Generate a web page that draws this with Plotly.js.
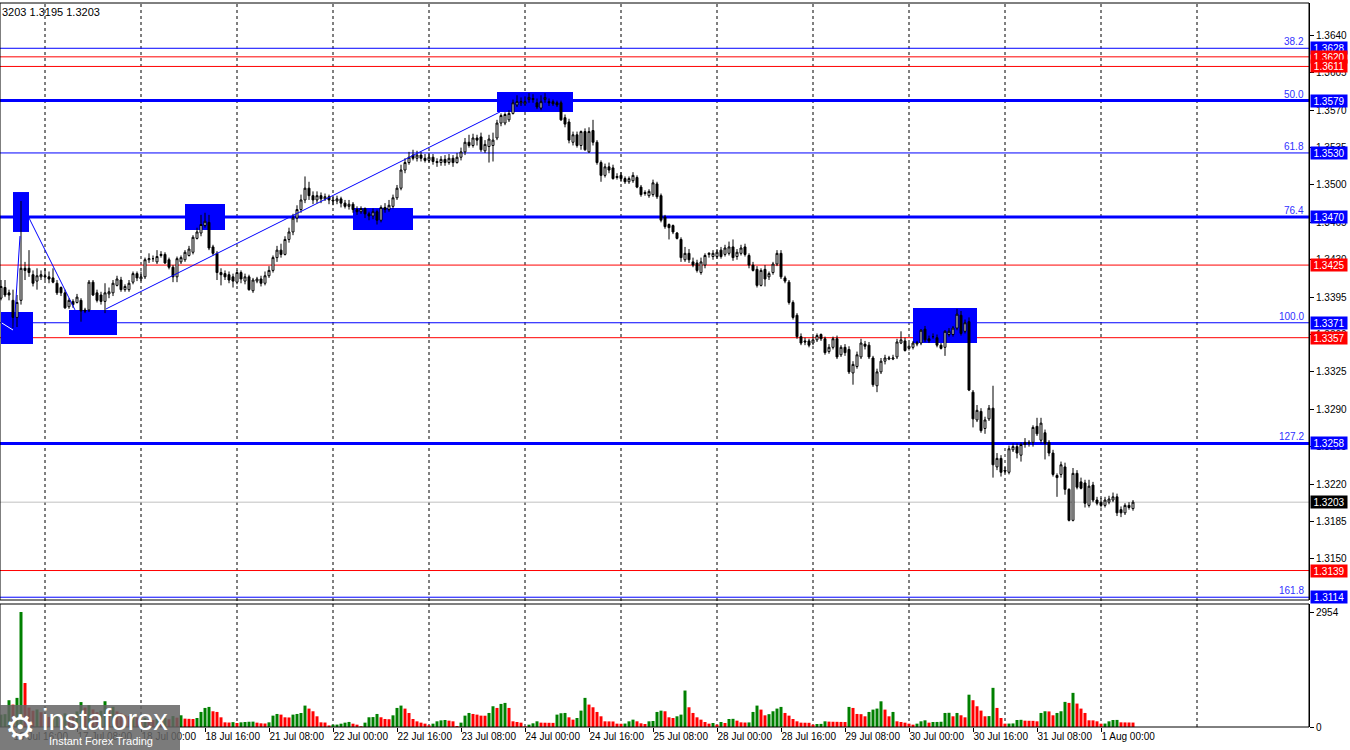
<!DOCTYPE html>
<html><head><meta charset="utf-8">
<script src="https://cdn.plot.ly/plotly-3.0.1.min.js"></script>
<style>html,body{margin:0;padding:0;background:#fff;}#chart{width:1350px;height:750px;}</style>
</head><body><div id="chart"></div>
<script>
// GBPUSD H1, 16 Jul 13:00 .. 1 Aug 07:00 (one bar per hour)
const openP = [
1.3394,1.3404,1.3399,1.3392,1.3376,1.3392,1.3422,1.3422,1.3416,1.3410,
1.3414,1.3415,1.3414,1.3413,1.3408,1.3404,1.3399,1.3386,1.3391,1.3390,
1.3392,1.3383,1.3383,1.3409,1.3399,1.3397,1.3391,1.3398,1.3399,1.3406,
1.3411,1.3402,1.3402,1.3409,1.3417,1.3412,1.3414,1.3430,1.3431,1.3428,
1.3434,1.3435,1.3430,1.3423,1.3414,1.3428,1.3430,1.3434,1.3437,1.3450,
1.3455,1.3462,1.3465,1.3442,1.3436,1.3418,1.3417,1.3416,1.3414,1.3409,
1.3418,1.3410,1.3414,1.3401,1.3410,1.3412,1.3408,1.3415,1.3420,1.3432,
1.3439,1.3435,1.3449,1.3456,1.3469,1.3477,1.3486,1.3497,1.3490,1.3486,
1.3490,1.3487,1.3489,1.3486,1.3485,1.3487,1.3483,1.3480,1.3482,1.3477,
1.3475,1.3478,1.3473,1.3471,1.3475,1.3467,1.3479,1.3477,1.3480,1.3488,
1.3497,1.3514,1.3521,1.3528,1.3525,1.3528,1.3525,1.3523,1.3526,1.3522,
1.3521,1.3524,1.3521,1.3525,1.3521,1.3526,1.3531,1.3540,1.3537,1.3544,
1.3545,1.3532,1.3536,1.3537,1.3544,1.3558,1.3558,1.3561,1.3567,1.3575,
1.3577,1.3576,1.3580,1.3581,1.3577,1.3572,1.3580,1.3578,1.3578,1.3577,
1.3577,1.3563,1.3559,1.3540,1.3547,1.3537,1.3550,1.3531,1.3551,1.3540,
1.3521,1.3509,1.3517,1.3516,1.3507,1.3509,1.3506,1.3503,1.3504,1.3507,
1.3498,1.3493,1.3490,1.3491,1.3501,1.3490,1.3470,1.3463,1.3462,1.3455,
1.3449,1.3430,1.3436,1.3428,1.3427,1.3418,1.3425,1.3435,1.3433,1.3433,
1.3439,1.3435,1.3436,1.3442,1.3433,1.3436,1.3442,1.3434,1.3425,1.3421,
1.3406,1.3421,1.3414,1.3418,1.3426,1.3436,1.3413,1.3409,1.3390,1.3378,
1.3358,1.3354,1.3354,1.3352,1.3355,1.3360,1.3356,1.3344,1.3348,1.3356,
1.3341,1.3348,1.3346,1.3324,1.3330,1.3339,1.3351,1.3350,1.3338,1.3312,
1.3325,1.3335,1.3337,1.3337,1.3339,1.3352,1.3354,1.3347,1.3348,1.3351,
1.3352,1.3365,1.3356,1.3358,1.3357,1.3350,1.3348,1.3360,1.3360,1.3366,
1.3378,1.3363,1.3372,1.3306,1.3280,1.3288,1.3272,1.3281,1.3291,1.3236,
1.3244,1.3233,1.3231,1.3252,1.3255,1.3247,1.3259,1.3258,1.3259,1.3274,
1.3261,1.3268,1.3259,1.3249,1.3228,1.3229,1.3236,1.3215,1.3186,1.3230,
1.3222,1.3221,1.3200,1.3219,1.3205,1.3203,1.3200,1.3203,1.3205,1.3208,
1.3196,1.3193,1.3200,1.3197];
const highP = [
1.3411,1.3411,1.3402,1.3402,1.3397,1.3485,1.3428,1.3439,1.3420,1.3422,
1.3420,1.3422,1.3419,1.3422,1.3411,1.3405,1.3402,1.3394,1.3393,1.3398,
1.3394,1.3385,1.3411,1.3411,1.3402,1.3400,1.3408,1.3404,1.3411,1.3415,
1.3414,1.3407,1.3411,1.3419,1.3419,1.3419,1.3432,1.3436,1.3434,1.3439,
1.3438,1.3437,1.3432,1.3425,1.3433,1.3434,1.3439,1.3443,1.3453,1.3460,
1.3472,1.3474,1.3472,1.3444,1.3438,1.3422,1.3420,1.3419,1.3417,1.3420,
1.3420,1.3417,1.3416,1.3413,1.3414,1.3415,1.3419,1.3424,1.3434,1.3443,
1.3445,1.3452,1.3460,1.3473,1.3481,1.3491,1.3508,1.3503,1.3494,1.3494,
1.3493,1.3492,1.3491,1.3489,1.3490,1.3489,1.3486,1.3486,1.3484,1.3480,
1.3480,1.3479,1.3475,1.3478,1.3477,1.3481,1.3483,1.3486,1.3491,1.3500,
1.3519,1.3525,1.3531,1.3533,1.3532,1.3531,1.3529,1.3530,1.3529,1.3525,
1.3527,1.3528,1.3529,1.3528,1.3530,1.3535,1.3544,1.3547,1.3548,1.3547,
1.3549,1.3542,1.3547,1.3549,1.3561,1.3567,1.3568,1.3570,1.3580,1.3584,
1.3582,1.3583,1.3586,1.3585,1.3581,1.3584,1.3586,1.3581,1.3580,1.3579,
1.3579,1.3566,1.3562,1.3550,1.3550,1.3551,1.3553,1.3554,1.3561,1.3542,
1.3523,1.3520,1.3521,1.3519,1.3511,1.3512,1.3508,1.3508,1.3512,1.3509,
1.3500,1.3495,1.3496,1.3505,1.3503,1.3492,1.3472,1.3464,1.3463,1.3456,
1.3451,1.3442,1.3440,1.3432,1.3430,1.3432,1.3436,1.3437,1.3439,1.3440,
1.3442,1.3444,1.3447,1.3449,1.3440,1.3444,1.3445,1.3436,1.3428,1.3424,
1.3422,1.3425,1.3419,1.3428,1.3439,1.3439,1.3415,1.3411,1.3392,1.3380,
1.3361,1.3357,1.3356,1.3358,1.3361,1.3361,1.3358,1.3351,1.3358,1.3359,
1.3350,1.3351,1.3349,1.3335,1.3344,1.3356,1.3354,1.3353,1.3340,1.3328,
1.3338,1.3341,1.3340,1.3341,1.3356,1.3363,1.3357,1.3352,1.3354,1.3354,
1.3365,1.3368,1.3359,1.3361,1.3360,1.3352,1.3364,1.3366,1.3368,1.3384,
1.3382,1.3374,1.3376,1.3308,1.3294,1.3291,1.3283,1.3294,1.3312,1.3249,
1.3247,1.3236,1.3256,1.3258,1.3258,1.3259,1.3263,1.3261,1.3275,1.3282,
1.3282,1.3271,1.3261,1.3252,1.3230,1.3241,1.3240,1.3216,1.3235,1.3233,
1.3226,1.3224,1.3224,1.3222,1.3208,1.3207,1.3208,1.3209,1.3212,1.3211,
1.3199,1.3202,1.3203,1.3205];
const lowP = [
1.3392,1.3395,1.3392,1.3366,1.3367,1.3388,1.3411,1.3414,1.3405,1.3402,
1.3411,1.3411,1.3408,1.3408,1.3397,1.3396,1.3384,1.3384,1.3385,1.3389,
1.3372,1.3380,1.3381,1.3396,1.3390,1.3388,1.3380,1.3394,1.3396,1.3405,
1.3400,1.3400,1.3400,1.3407,1.3410,1.3410,1.3412,1.3427,1.3428,1.3426,
1.3432,1.3426,1.3421,1.3409,1.3409,1.3426,1.3428,1.3433,1.3435,1.3449,
1.3452,1.3460,1.3439,1.3434,1.3411,1.3406,1.3411,1.3408,1.3404,1.3407,
1.3408,1.3407,1.3401,1.3399,1.3408,1.3405,1.3406,1.3413,1.3418,1.3428,
1.3432,1.3434,1.3446,1.3453,1.3465,1.3474,1.3483,1.3486,1.3482,1.3483,
1.3483,1.3485,1.3482,1.3481,1.3482,1.3479,1.3478,1.3477,1.3474,1.3472,
1.3473,1.3469,1.3467,1.3468,1.3463,1.3465,1.3474,1.3475,1.3478,1.3486,
1.3495,1.3511,1.3519,1.3523,1.3522,1.3522,1.3521,1.3521,1.3519,1.3517,
1.3518,1.3518,1.3519,1.3517,1.3520,1.3523,1.3528,1.3535,1.3535,1.3537,
1.3531,1.3530,1.3521,1.3522,1.3542,1.3555,1.3556,1.3559,1.3566,1.3573,
1.3574,1.3574,1.3577,1.3577,1.3571,1.3570,1.3577,1.3574,1.3574,1.3573,
1.3560,1.3554,1.3539,1.3537,1.3535,1.3533,1.3532,1.3530,1.3537,1.3519,
1.3503,1.3507,1.3511,1.3505,1.3505,1.3503,1.3501,1.3501,1.3502,1.3497,
1.3489,1.3490,1.3488,1.3489,1.3487,1.3465,1.3459,1.3449,1.3454,1.3449,
1.3428,1.3428,1.3427,1.3423,1.3418,1.3416,1.3422,1.3432,1.3430,1.3431,
1.3431,1.3433,1.3434,1.3429,1.3430,1.3434,1.3433,1.3422,1.3419,1.3404,
1.3405,1.3405,1.3411,1.3416,1.3424,1.3412,1.3408,1.3388,1.3374,1.3356,
1.3350,1.3350,1.3348,1.3350,1.3353,1.3354,1.3341,1.3342,1.3346,1.3337,
1.3339,1.3340,1.3323,1.3313,1.3328,1.3337,1.3346,1.3337,1.3311,1.3306,
1.3323,1.3332,1.3336,1.3336,1.3337,1.3351,1.3344,1.3345,1.3346,1.3349,
1.3350,1.3353,1.3352,1.3356,1.3348,1.3346,1.3340,1.3358,1.3358,1.3364,
1.3359,1.3361,1.3307,1.3273,1.3278,1.3268,1.3267,1.3279,1.3226,1.3233,
1.3227,1.3230,1.3229,1.3250,1.3244,1.3241,1.3254,1.3255,1.3255,1.3265,
1.3258,1.3243,1.3246,1.3227,1.3208,1.3226,1.3210,1.3185,1.3185,1.3215,
1.3215,1.3198,1.3198,1.3203,1.3200,1.3198,1.3198,1.3201,1.3203,1.3190,
1.3189,1.3191,1.3196,1.3195];
const closeP = [
1.3405,1.3397,1.3397,1.3376,1.3390,1.3422,1.3420,1.3418,1.3408,1.3415,
1.3416,1.3414,1.3412,1.3409,1.3399,1.3399,1.3385,1.3392,1.3388,1.3395,
1.3382,1.3382,1.3409,1.3397,1.3392,1.3391,1.3399,1.3400,1.3408,1.3412,
1.3402,1.3405,1.3408,1.3417,1.3413,1.3414,1.3430,1.3431,1.3431,1.3433,
1.3435,1.3427,1.3423,1.3414,1.3431,1.3432,1.3437,1.3440,1.3451,1.3456,
1.3463,1.3466,1.3441,1.3436,1.3418,1.3416,1.3414,1.3411,1.3410,1.3418,
1.3412,1.3414,1.3402,1.3411,1.3412,1.3408,1.3415,1.3420,1.3432,1.3439,
1.3435,1.3449,1.3456,1.3469,1.3477,1.3486,1.3497,1.3490,1.3486,1.3490,
1.3487,1.3489,1.3486,1.3485,1.3487,1.3483,1.3480,1.3482,1.3477,1.3475,
1.3478,1.3473,1.3471,1.3475,1.3467,1.3479,1.3477,1.3481,1.3488,1.3497,
1.3514,1.3521,1.3526,1.3525,1.3528,1.3525,1.3523,1.3526,1.3522,1.3521,
1.3524,1.3521,1.3525,1.3521,1.3526,1.3531,1.3540,1.3537,1.3544,1.3542,
1.3533,1.3538,1.3543,1.3542,1.3558,1.3565,1.3566,1.3567,1.3577,1.3578,
1.3578,1.3578,1.3582,1.3580,1.3573,1.3578,1.3582,1.3577,1.3576,1.3575,
1.3561,1.3557,1.3542,1.3547,1.3537,1.3550,1.3533,1.3550,1.3540,1.3521,
1.3509,1.3517,1.3514,1.3506,1.3508,1.3506,1.3503,1.3506,1.3509,1.3498,
1.3491,1.3492,1.3494,1.3502,1.3489,1.3467,1.3461,1.3460,1.3456,1.3450,
1.3432,1.3436,1.3430,1.3425,1.3420,1.3428,1.3434,1.3436,1.3436,1.3437,
1.3433,1.3441,1.3442,1.3432,1.3437,1.3441,1.3435,1.3425,1.3420,1.3406,
1.3420,1.3412,1.3417,1.3426,1.3436,1.3414,1.3410,1.3390,1.3376,1.3358,
1.3352,1.3353,1.3350,1.3355,1.3359,1.3356,1.3343,1.3348,1.3356,1.3339,
1.3348,1.3343,1.3325,1.3332,1.3341,1.3352,1.3349,1.3339,1.3313,1.3325,
1.3335,1.3338,1.3338,1.3338,1.3353,1.3355,1.3345,1.3349,1.3352,1.3352,
1.3364,1.3355,1.3354,1.3358,1.3350,1.3347,1.3363,1.3363,1.3366,1.3379,
1.3361,1.3371,1.3308,1.3281,1.3289,1.3270,1.3280,1.3291,1.3238,1.3244,
1.3231,1.3232,1.3253,1.3255,1.3249,1.3257,1.3257,1.3259,1.3273,1.3267,
1.3277,1.3258,1.3249,1.3229,1.3226,1.3238,1.3215,1.3186,1.3230,1.3217,
1.3216,1.3202,1.3218,1.3205,1.3202,1.3200,1.3205,1.3206,1.3208,1.3193,
1.3193,1.3200,1.3198,1.3203];
const volume = [
318,330,688,576,748,2954,1130,500,420,450,
380,300,260,280,330,300,350,300,260,400,
640,500,560,450,380,420,662,450,520,400,
350,300,280,310,250,150,230,200,180,210,
190,230,200,280,240,301,215,210,205,232,
387,490,516,404,387,249,120,115,125,103,
120,129,135,138,112,95,90,120,292,335,
318,249,245,318,335,360,550,473,404,275,
120,115,40,60,62,85,112,130,85,60,
20,112,250,255,335,250,205,200,300,490,
550,473,360,205,145,112,86,43,86,146,
170,180,163,146,26,112,292,361,335,318,
292,290,361,533,490,593,619,490,146,129,
112,17,60,95,146,112,110,108,106,318,
353,361,249,189,232,421,748,576,507,387,
275,146,144,142,86,84,88,146,189,146,
95,77,146,155,387,420,404,249,232,275,
318,937,507,361,249,189,129,86,103,60,
129,103,206,210,163,120,115,118,387,550,
447,300,330,404,473,516,361,292,206,146,
112,110,108,60,77,80,146,138,135,133,
130,128,516,490,335,330,275,387,447,473,
660,447,275,387,146,129,112,86,60,86,
146,172,112,129,130,135,361,365,275,361,
301,249,830,688,533,421,275,280,1006,490,
232,86,88,92,180,185,163,160,158,146,
361,404,400,301,361,404,645,619,877,602,
473,361,172,170,146,86,88,146,180,182,
120,118,116,114];
const tickLabels = ["16 Jul 16:00","17 Jul 08:00","18 Jul 00:00","18 Jul 16:00","21 Jul 08:00","22 Jul 00:00","22 Jul 16:00","23 Jul 08:00","24 Jul 00:00","24 Jul 16:00","25 Jul 08:00","28 Jul 00:00","28 Jul 16:00","29 Jul 08:00","30 Jul 00:00","30 Jul 16:00","31 Jul 08:00","1 Aug 00:00"];
const priceTicks = [1.3640,1.3605,1.3570,1.3535,1.3500,1.3465,1.3430,1.3395,1.3360,1.3325,1.3290,1.3255,1.3220,1.3185,1.3150];
const levelPrices = [1.3628,1.3620,1.3611,1.3579,1.3530,1.3470,1.3425,1.3371,1.3357,1.3258,1.3203,1.3139,1.3114];
const levelKinds  = ["fib","res","res","fibBold","fib","fibBold","res","fib","res","fibBold","last","res","fib"];
const fibLabels   = ["38.2","","","50.0","61.8","76.4","","100.0","","127.2","","","161.8"];
const headerText = "3203 1.3195 1.3203";
const volMax = 2954;

// ---------- layout constants ----------
const W = 1350, H = 750, mL = 0, mR = 41, mT = 3, mB = 23;
const plotH = H - mT - mB; // 724
const plotW = W - mL - mR; // 1309
const priceDomain = [(727 - 600) / plotH, 1];
const volDomain = [0, (727 - 604) / plotH];
const xs = openP.map((_, i) => i);
const BLUE = '#0000ff', RED = '#ff0000';

const tickVals = tickLabels.map((_, k) => 3 + 16 * k);
const dayLines = []; for (let d = 11; d <= 299; d += 24) dayLines.push(d);

const volColors = volume.map((v, i) => (i === 0 || v > volume[i - 1]) ? '#008000' : '#ff0000');

const shapes = [];
dayLines.forEach(d => shapes.push({type:'line', xref:'x', yref:'paper', x0:d, x1:d, y0:0, y1:1,
  line:{color:'#000', width:1, dash:'3px,3px'}, layer:'below'}));

// blue zones
const zones = [[3,7,1.34560,1.34934],[0,8,1.33511,1.33811],[17,29,1.33596,1.33830],[46,56,1.34579,1.34822],
  [88,103,1.34579,1.34785],[124,143,1.35684,1.35871],[228,244,1.33521,1.33848]];
zones.forEach(z => shapes.push({type:'rect', xref:'x', yref:'y', x0:z[0], x1:z[1], y0:z[2], y1:z[3],
  fillcolor:BLUE, line:{width:0}, layer:'below'}));

// level lines
levelPrices.forEach((p, k) => {
  const kind = levelKinds[k];
  let color = BLUE, width = 1;
  if (kind === 'res') color = RED;
  if (kind === 'fibBold') width = 3;
  if (kind === 'last') color = '#c0c0c0';
  shapes.push({type:'line', xref:'paper', yref:'y', x0:0, x1:1, y0:p, y1:p, line:{color, width}, layer:'below'});
});

// trend lines
shapes.push({type:'line', xref:'x', yref:'y', x0:0.2, y0:1.33708, x1:3, y1:1.33642, line:{color:'#ffffff', width:1}});
[[3.25,1.33642,4.75,1.34522],[7,1.34691,18.5,1.33830],[26.25,1.33839,124.75,1.35684]].forEach(t =>
  shapes.push({type:'line', xref:'x', yref:'y', x0:t[0], y0:t[1], x1:t[2], y1:t[3], line:{color:BLUE, width:1}}));

// panel borders
shapes.push({type:'rect', xref:'paper', yref:'paper', x0:0, x1:1, y0:priceDomain[0], y1:1, line:{color:'#000', width:1}, fillcolor:'rgba(0,0,0,0)'});
shapes.push({type:'rect', xref:'paper', yref:'paper', x0:0, x1:1, y0:0, y1:volDomain[1], line:{color:'#000', width:1}, fillcolor:'rgba(0,0,0,0)'});

// logo box
shapes.push({type:'rect', xref:'paper', yref:'paper', x0:0, x1:180/plotW, y0:-23/plotH, y1:22/plotH,
  fillcolor:'rgba(100,100,100,0.85)', line:{width:0}, layer:'above'});

const annotations = [];
annotations.push({xref:'paper', yref:'paper', x:0, y:1, xanchor:'left', yanchor:'top', yshift:-1,
  text:headerText, showarrow:false, font:{size:11, color:'#000', family:'Liberation Sans'}});
levelPrices.forEach((p, k) => {
  const kind = levelKinds[k];
  const bg = kind === 'res' ? RED : (kind === 'last' ? '#000000' : BLUE);
  annotations.push({xref:'paper', yref:'y', x:1, y:p, xanchor:'left', yanchor:'middle', xshift:1,
    text:p.toFixed(4), showarrow:false, bgcolor:bg, borderpad:1, width:34, height:10, align:'center',
    font:{size:10, color:'#ffffff', family:'Liberation Sans'}});
  if (fibLabels[k]) annotations.push({xref:'paper', yref:'y', x:1, y:p, xanchor:'right', yanchor:'bottom', xshift:-3, yshift:-1,
    text:fibLabels[k], showarrow:false, font:{size:10, color:'#3030ff', family:'Liberation Sans'}});
});
// logo text
annotations.push({xref:'paper', yref:'paper', x:3/plotW, y:(727-727)/plotH, xanchor:'left', yanchor:'middle',
  text:'\u2699', showarrow:false, font:{size:34, color:'#ffffff', family:'DejaVu Sans'}});
annotations.push({xref:'paper', yref:'paper', x:40/plotW, y:(727-720)/plotH, xanchor:'left', yanchor:'middle',
  text:'instaforex', showarrow:false, font:{size:29, color:'#ffffff', family:'Liberation Sans'}});
annotations.push({xref:'paper', yref:'paper', x:47/plotW, y:(727-741)/plotH, xanchor:'left', yanchor:'middle',
  text:'Instant Forex Trading', showarrow:false, font:{size:11, color:'#ffffff', family:'Liberation Sans'}});

const traces = [
  {type:'candlestick', x:xs, open:openP, high:highP, low:lowP, close:closeP, xaxis:'x', yaxis:'y',
   increasing:{line:{color:'#000', width:1}, fillcolor:'#ffffff'},
   decreasing:{line:{color:'#000', width:1}, fillcolor:'#000000'},
   whiskerwidth:0, hoverinfo:'skip', showlegend:false},
  {type:'bar', x:xs, y:volume, xaxis:'x', yaxis:'y2', marker:{color:volColors, line:{width:0}},
   hoverinfo:'skip', showlegend:false}
];

const layout = {
  width:W, height:H, margin:{l:mL, r:mR, t:mT, b:mB}, paper_bgcolor:'#fff', plot_bgcolor:'#fff',
  font:{family:'Liberation Sans', size:10, color:'#000'}, showlegend:false, bargap:0.25,
  xaxis:{range:[-0.25, 327], anchor:'y2', showgrid:false, zeroline:false, showline:false,
    tickmode:'array', tickvals:tickVals, ticktext:tickLabels, ticks:'outside', ticklen:4, tickcolor:'#000',
    ticklabelposition:'outside right', tickfont:{size:10, color:'#000'}, rangeslider:{visible:false}, fixedrange:true},
  yaxis:{domain:priceDomain, range:[1.31114, 1.36704], side:'right', showgrid:false, zeroline:false,
    showline:true, linecolor:'#000', linewidth:1, tickmode:'array', tickvals:priceTicks,
    ticktext:priceTicks.map(v => v.toFixed(4)), ticks:'outside', ticklen:4, tickcolor:'#000',
    tickfont:{size:10, color:'#000'}, fixedrange:true},
  yaxis2:{domain:volDomain, range:[0, 3160], side:'right', showgrid:false, zeroline:false,
    showline:true, linecolor:'#000', tickmode:'array', tickvals:[0, volMax], ticktext:['0', String(volMax)],
    ticks:'outside', ticklen:4, tickcolor:'#000', tickfont:{size:10, color:'#000'}, fixedrange:true},
  shapes, annotations
};
Plotly.newPlot('chart', traces, layout, {displayModeBar:false, staticPlot:true});
</script>
</body></html>
